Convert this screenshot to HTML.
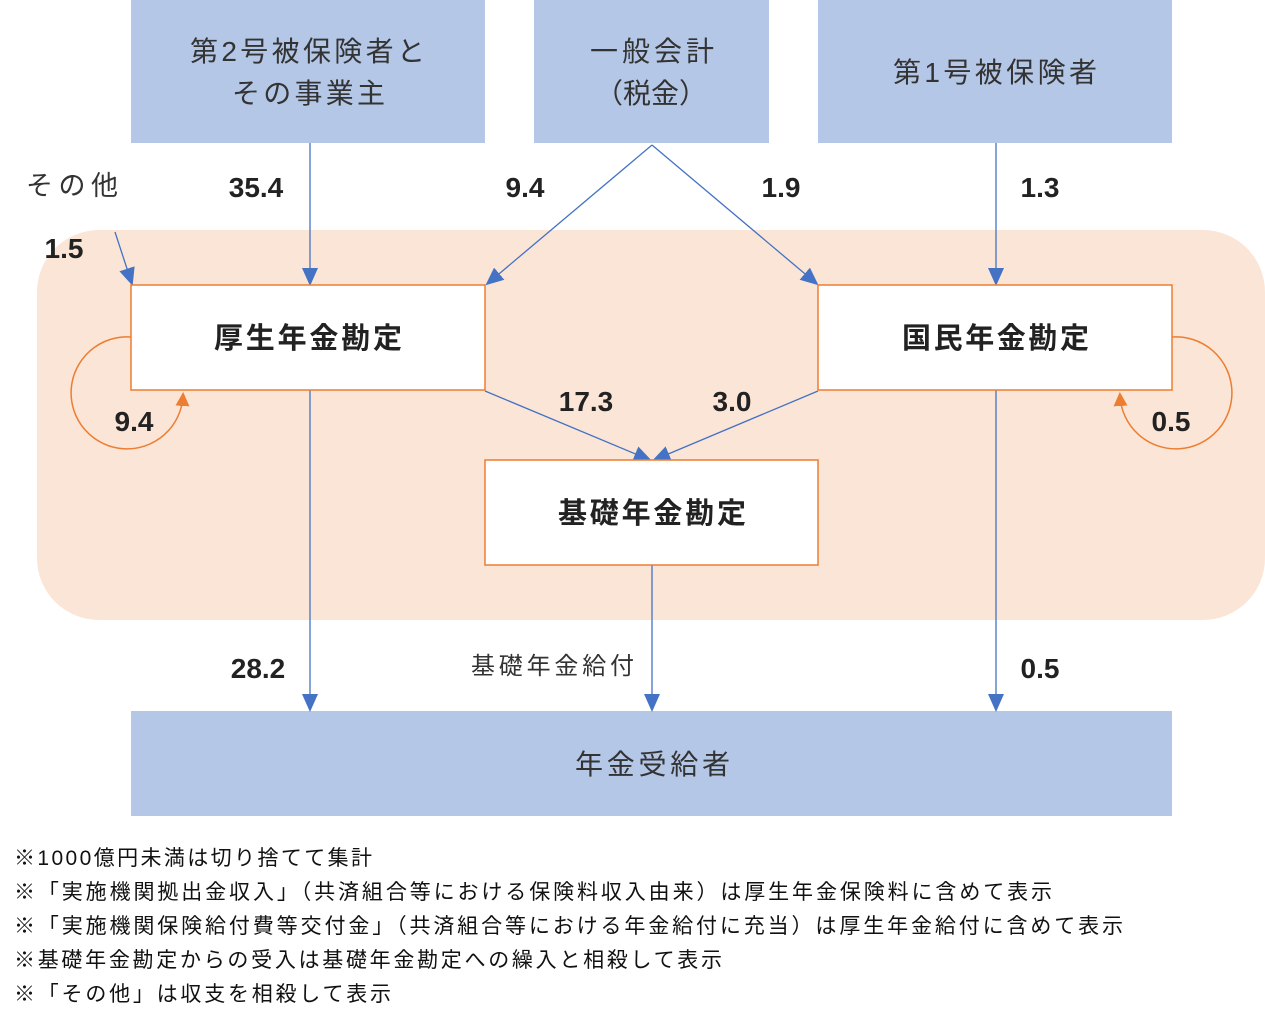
<!DOCTYPE html>
<html><head><meta charset="utf-8"><style>
html,body{margin:0;padding:0;background:#fff;}
svg text{font-family:"Liberation Sans","Noto Sans CJK JP",sans-serif;}
</style></head><body>
<svg width="1265" height="1024" xmlns="http://www.w3.org/2000/svg">
<defs>
<marker id="ao" markerWidth="14" markerHeight="14" refX="10" refY="7" orient="auto" markerUnits="userSpaceOnUse" viewBox="0 0 14 14"><path d="M0,0 L14,7 L0,14 z" fill="#ed7d31"/></marker>
<marker id="ab2" markerWidth="18" markerHeight="18" refX="16" refY="9" orient="auto" markerUnits="userSpaceOnUse" viewBox="0 0 18 18"><path d="M0,1 L18,9 L0,17 z" fill="#4472c4"/></marker>
</defs>
<rect x="37" y="230" width="1228" height="390" rx="62" fill="#fbe5d6"/>
<rect x="131" y="0" width="354" height="143" fill="#b4c7e7"/>
<rect x="534" y="0" width="235" height="143" fill="#b4c7e7"/>
<rect x="818" y="0" width="354" height="143" fill="#b4c7e7"/>
<rect x="131" y="711" width="1041" height="105" fill="#b4c7e7"/>
<g font-size="28" fill="#333">
<text x="190" y="61" textLength="235" lengthAdjust="spacing">第2号被保険者と</text>
<text x="232" y="103" textLength="153" lengthAdjust="spacing">その事業主</text>
<text x="590" y="61" textLength="124" lengthAdjust="spacing">一般会計</text>
<text x="595" y="103" textLength="112" lengthAdjust="spacing">（税金）</text>
<text x="893" y="82" textLength="204" lengthAdjust="spacing">第1号被保険者</text>
<text x="575" y="774" textLength="155" lengthAdjust="spacing">年金受給者</text>
</g>
<g stroke="#4472c4" stroke-width="1.3" fill="none">
<line x1="310" y1="143" x2="310" y2="284" marker-end="url(#ab2)"/>
<line x1="652" y1="145" x2="487" y2="284" marker-end="url(#ab2)"/>
<line x1="652" y1="145" x2="817" y2="284" marker-end="url(#ab2)"/>
<line x1="996" y1="143" x2="996" y2="284" marker-end="url(#ab2)"/>
<line x1="115" y1="232" x2="132" y2="284" marker-end="url(#ab2)"/>
<line x1="485" y1="391" x2="650" y2="460" marker-end="url(#ab2)"/>
<line x1="818" y1="391" x2="654" y2="460" marker-end="url(#ab2)"/>
<line x1="310" y1="390" x2="310" y2="710" marker-end="url(#ab2)"/>
<line x1="652" y1="565" x2="652" y2="710" marker-end="url(#ab2)"/>
<line x1="996" y1="390" x2="996" y2="710" marker-end="url(#ab2)"/>
</g>
<rect x="131" y="285" width="354" height="105" fill="#fff" stroke="#ed7d31" stroke-width="1.5"/>
<rect x="818" y="285" width="354" height="105" fill="#fff" stroke="#ed7d31" stroke-width="1.5"/>
<rect x="485" y="460" width="333" height="105" fill="#fff" stroke="#ed7d31" stroke-width="1.5"/>
<path d="M131,337 A56,56 0 1 0 183,396" fill="none" stroke="#ed7d31" stroke-width="1.5" marker-end="url(#ao)"/>
<path d="M1172,337 A56,56 0 1 1 1120,396" fill="none" stroke="#ed7d31" stroke-width="1.5" marker-end="url(#ao)"/>
<g font-size="29" font-weight="bold" fill="#222">
<text x="214" y="348" textLength="188" lengthAdjust="spacing">厚生年金勘定</text>
<text x="902" y="348" textLength="187" lengthAdjust="spacing">国民年金勘定</text>
<text x="558" y="523" textLength="188" lengthAdjust="spacing">基礎年金勘定</text>
</g>
<g font-size="28" font-weight="bold" fill="#222" text-anchor="middle">
<text x="256" y="197">35.4</text>
<text x="525" y="197">9.4</text>
<text x="781" y="197">1.9</text>
<text x="1040" y="197">1.3</text>
<text x="64" y="258">1.5</text>
<text x="134" y="431">9.4</text>
<text x="1171" y="431">0.5</text>
<text x="586" y="411">17.3</text>
<text x="732" y="411">3.0</text>
<text x="258" y="678">28.2</text>
<text x="1040" y="678">0.5</text>
</g>
<text x="26" y="195" font-size="27" fill="#333" textLength="92" lengthAdjust="spacing">その他</text>
<text x="471" y="674" font-size="24" fill="#333" textLength="163" lengthAdjust="spacing">基礎年金給付</text>
<g font-size="21" fill="#111">
<text x="14" y="865" textLength="358" lengthAdjust="spacing">※1000億円未満は切り捨てて集計</text>
<text x="14" y="899" textLength="1038" lengthAdjust="spacing">※「実施機関拠出金収入」（共済組合等における保険料収入由来）は厚生年金保険料に含めて表示</text>
<text x="14" y="933" textLength="1109" lengthAdjust="spacing">※「実施機関保険給付費等交付金」（共済組合等における年金給付に充当）は厚生年金給付に含めて表示</text>
<text x="14" y="967" textLength="708" lengthAdjust="spacing">※基礎年金勘定からの受入は基礎年金勘定への繰入と相殺して表示</text>
<text x="14" y="1001" textLength="377" lengthAdjust="spacing">※「その他」は収支を相殺して表示</text>
</g>
</svg>
</body></html>
